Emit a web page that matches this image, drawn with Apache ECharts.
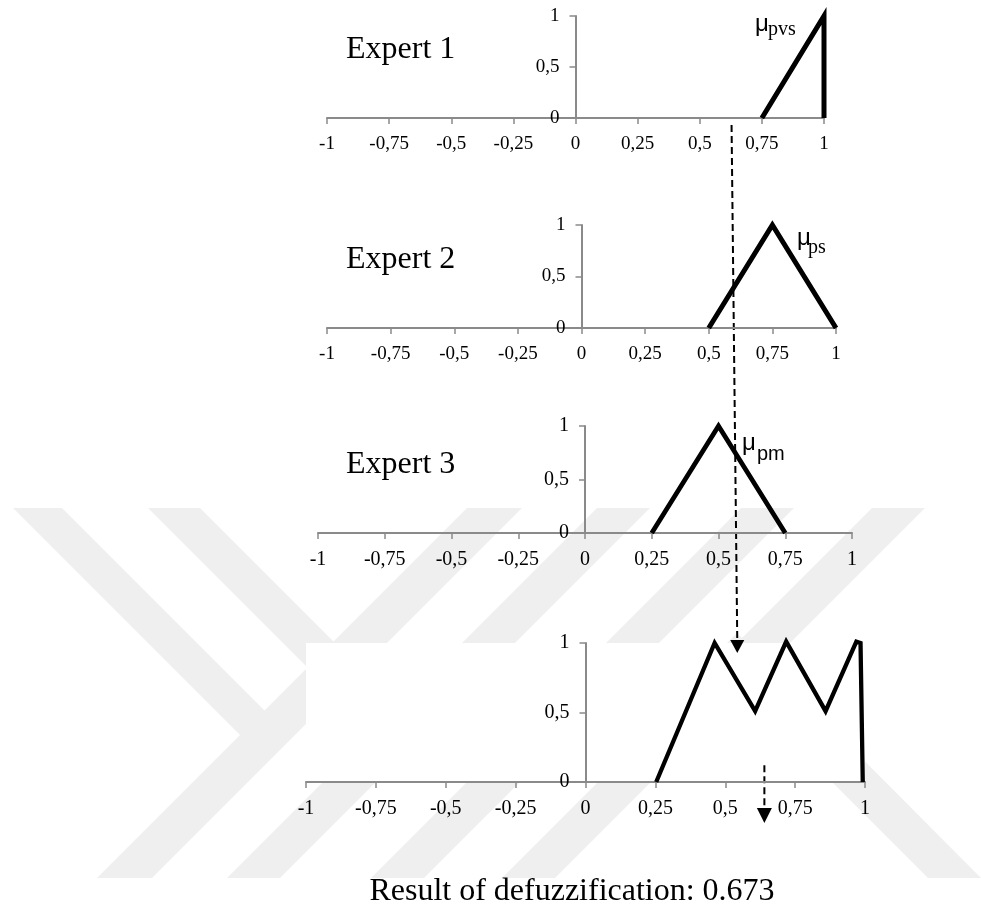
<!DOCTYPE html>
<html>
<head>
<meta charset="utf-8">
<title>Defuzzification</title>
<script src="https://cdn.jsdelivr.net/npm/echarts@6.0.0/dist/echarts.min.js"></script>
<style>
  html, body { margin: 0; padding: 0; background: #fff; }
  #chart { width: 981px; height: 909px; }
</style>
</head>
<body>
<div id="chart"></div>
<script>
// membership functions, one per expert + the aggregate
var expert1 = [[0.75, 0], [1, 1], [1, 0]];
var expert2 = [[0.5, 0], [0.75, 1], [1, 0]];
var expert3 = [[0.25, 0], [0.5, 1], [0.75, 0]];
var aggregated = [[0.253, 0], [0.462, 1], [0.607, 0.51], [0.718, 1.01], [0.859, 0.51], [0.969, 1.01], [0.984, 1], [0.992, 0]];

var xTickValues = [-1, -0.75, -0.5, -0.25, 0, 0.25, 0.5, 0.75, 1];
var xTickLabels = ["-1", "-0,75", "-0,5", "-0,25", "0", "0,25", "0,5", "0,75", "1"];
var yTickValues = [0, 0.5, 1];
var yTickLabels = ["0", "0,5", "1"];

var panelTitles = ["Expert 1", "Expert 2", "Expert 3"];
var muNames = ["pvs", "ps", "pm"];
var resultText = "Result of defuzzification: 0.673";

// dashed arrow: x where it leaves panel 1 and where it lands on panel 4
var arrowFrom = 0.628;
var arrowTo = 0.543;
var resultMark = 0.64;

// layout
var grids = [
  { left: 327, top: 16, width: 497, height: 102 },
  { left: 327, top: 225, width: 509, height: 103 },
  { left: 318, top: 426, width: 534, height: 107 },
  { left: 306, top: 643, width: 559, height: 139 }
];
var labelSizes = [19, 19, 20, 20];
var lineWidths = [5, 5, 4.7, 4.3];
var panelData = [expert1, expert2, expert3, aggregated];

var axisGrey = "#8a8a8a";
var serif = '"Liberation Serif", "Times New Roman", serif';
var sans = '"Liberation Sans", Arial, sans-serif';

var chart = echarts.init(document.getElementById("chart"), null, { renderer: "canvas" });

chart.setOption({
  animation: false,
  backgroundColor: "#fff",
  grid: grids.map(function (g) {
    return { left: g.left, top: g.top, width: g.width, height: g.height, outerBoundsMode: "none", containLabel: false };
  }),
  xAxis: grids.map(function (g, i) {
    return {
      type: "value",
      gridIndex: i,
      min: -1,
      max: 1,
      interval: 0.25,
      axisLine: { show: true, lineStyle: { color: axisGrey, width: 2 } },
      axisTick: { show: true, length: 6, lineStyle: { color: axisGrey, width: 1.5 } },
      axisLabel: {
        showMinLabel: true,
        showMaxLabel: true,
        hideOverlap: false,
        margin: 17,
        color: "#000",
        fontFamily: serif,
        fontSize: labelSizes[i],
        formatter: function (v) { return xTickLabels[xTickValues.indexOf(v)]; }
      },
      splitLine: { show: false }
    };
  }),
  yAxis: grids.map(function (g, i) {
    return {
      type: "value",
      gridIndex: i,
      min: 0,
      max: 1,
      interval: 0.5,
      // the vertical axis sits on x = 0, in the middle of the grid
      offset: -g.width / 2,
      axisLine: { show: true, onZero: false, lineStyle: { color: axisGrey, width: 2 } },
      axisTick: { show: true, length: 6, lineStyle: { color: axisGrey, width: 1.5 } },
      axisLabel: {
        margin: 16,
        color: "#000",
        fontFamily: serif,
        fontSize: labelSizes[i],
        formatter: function (v) { return yTickLabels[yTickValues.indexOf(v)]; }
      },
      splitLine: { show: false }
    };
  }),
  series: panelData.map(function (d, i) {
    return {
      type: "line",
      xAxisIndex: i,
      yAxisIndex: i,
      data: d,
      symbol: "none",
      clip: false,
      silent: true,
      lineStyle: { color: "#000", width: lineWidths[i], join: "miter", cap: "butt" }
    };
  })
});

// pale watermark stripes in the background (pixel decoration)
var watermark = [
  [[467, 508], [522, 508], [152, 878], [97, 878]],
  [[13, 508], [62, 508], [270, 716], [245, 740]],
  [[148, 508], [200, 508], [404, 712], [378, 738]],
  [[597, 508], [650, 508], [280, 878], [227, 878]],
  [[741, 508], [794, 508], [424, 878], [371, 878]],
  [[872, 508], [925, 508], [555, 878], [502, 878]],
  [[737, 633], [710, 660], [928, 878], [981, 878]]
];

function px(i, p) { return chart.convertToPixel({ gridIndex: i }, p); }

var g = [];
watermark.forEach(function (pts) {
  g.push({ type: "polygon", z: -2, silent: true, shape: { points: pts }, style: { fill: "#efefef" } });
});

// white plot area of the last panel
var tl = px(3, [-1, 1]), br = px(3, [1, 0]);
g.push({ type: "rect", z: -1, silent: true, shape: { x: tl[0], y: tl[1], width: br[0] - tl[0], height: br[1] - tl[1] }, style: { fill: "#fff" } });

// panel titles
var titleY = [50, 260, 465];
panelTitles.forEach(function (t, i) {
  g.push({ type: "text", x: 346, y: titleY[i], style: { text: t, font: "32px " + serif, fill: "#000", textAlign: "left", textVerticalAlign: "middle" } });
});

// mu labels
var muPos = [[755, 24, 768, 30, serif], [797, 238, 808, 248, serif], [742, 443, 757, 454, sans]];
muPos.forEach(function (m, i) {
  g.push({ type: "text", x: m[0], y: m[1], style: { text: "\u03bc", font: "24px " + sans, fill: "#000", textAlign: "left", textVerticalAlign: "middle" } });
  g.push({ type: "text", x: m[2], y: m[3], style: { text: muNames[i], font: "20px " + m[4], fill: "#000", textAlign: "left", textVerticalAlign: "middle" } });
});

// long dashed arrow from panel 1 to panel 4
var a0 = px(0, [arrowFrom, 0]);
var a1 = px(3, [arrowTo, 1]);
g.push({ type: "line", silent: true, shape: { x1: a0[0], y1: a0[1] + 7, x2: a1[0], y2: a1[1] - 2 }, style: { stroke: "#000", lineWidth: 2, lineDash: [7, 4] } });
g.push({ type: "polygon", silent: true, shape: { points: [[a1[0] - 7, a1[1] - 3], [a1[0] + 7, a1[1] - 3], [a1[0], a1[1] + 10]] }, style: { fill: "#000" } });

// short dashed arrow under the last panel marking the result
var r0 = px(3, [resultMark, 0.12]);
var r1 = px(3, [resultMark, 0]);
g.push({ type: "line", silent: true, shape: { x1: r0[0], y1: r0[1], x2: r1[0], y2: r1[1] + 27 }, style: { stroke: "#000", lineWidth: 2, lineDash: [7, 4] } });
g.push({ type: "polygon", silent: true, shape: { points: [[r1[0] - 7.5, r1[1] + 26], [r1[0] + 7.5, r1[1] + 26], [r1[0], r1[1] + 41]] }, style: { fill: "#000" } });

// result caption
g.push({ type: "text", x: 572, y: 892, style: { text: resultText, font: "32px " + serif, fill: "#000", textAlign: "center", textVerticalAlign: "middle" } });

chart.setOption({ graphic: g });
</script>
</body>
</html>
